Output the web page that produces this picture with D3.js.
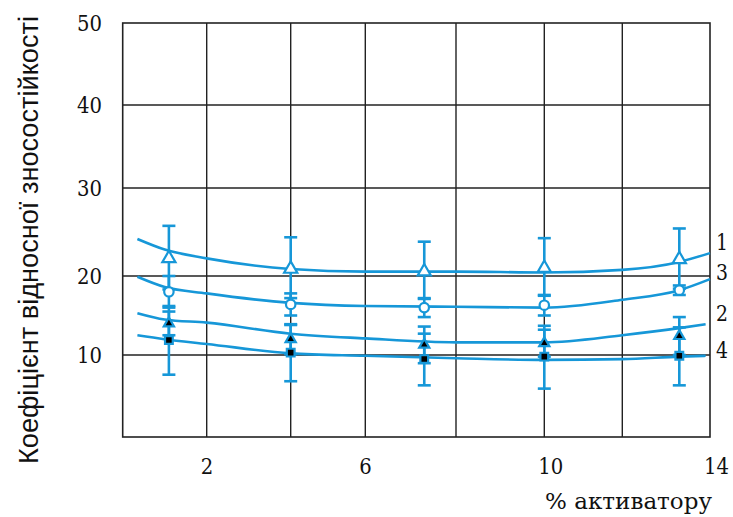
<!DOCTYPE html>
<html>
<head>
<meta charset="utf-8">
<script src="https://cdn.jsdelivr.net/npm/d3@7"></script>
<style>
  body { margin: 0; background: #fff; }
  svg { display: block; }
  .serif { font-family: "DejaVu Serif", serif; }
  .sans { font-family: "Liberation Sans", Arial, sans-serif; }
</style>
</head>
<body>
<div id="chart"></div>
<script>
// values
const xPoints = [1.1, 4, 7.3, 10, 13.3];
const xTicks = [2, 6, 10, 14];
const xGrid = [2, 4, 6, 8, 10, 12];
const yTicks = [10, 20, 30, 40, 50];
const yGrid = [10, 20, 30, 40];

// measured means and errors, series 1..4
const s1 = [22.0, 20.8, 20.5, 20.9, 21.9];
const s1Err = [3.7, 3.6, 3.4, 3.4, 3.5];
const s2 = [14.0, 12.0, 11.3, 11.5, 12.4];
const s2Err = [1.5, 1.9, 2.3, 1.7, 2.4];
const s3 = [18.0, 16.4, 16.0, 16.3, 18.2];
const s3Err = [2.0, 1.4, 1.2, 1.3, 0.6];
const s4 = [11.9, 10.3, 9.5, 9.8, 9.9];
const s4Err = [4.3, 3.5, 3.2, 3.9, 3.6];

// fitted curves
const curveX = [0.35, 1, 2, 4, 6, 8, 10, 12, 13.3, 14];
const curveX24 = [0.35, 1, 2, 4, 6, 8, 10, 12, 13.3, 13.9];
const c1 = [24.2, 23.0, 22.0, 20.8, 20.5, 20.5, 20.4, 20.7, 21.6, 22.6];
const c2 = [15.3, 14.5, 14.1, 12.7, 12.1, 11.6, 11.6, 12.5, 13.4, 13.9];
const c3 = [19.9, 18.6, 17.8, 16.6, 16.2, 16.1, 16.0, 17.0, 18.2, 19.6];
const c4 = [12.5, 12.0, 11.4, 10.2, 9.9, 9.6, 9.4, 9.5, 9.8, 9.9];

const curveLabels = ["1", "3", "2", "4"];
const labelValues = [23.9, 20.5, 15.3, 10.7];

const blue = "#1697d8";

const svg = d3.select("#chart").append("svg")
    .attr("width", 733)
    .attr("height", 517);

// the original grid is hand spaced, so map each grid value to its line
const x = d3.scaleLinear()
    .domain([0, 2, 4, 6, 8, 10, 12, 14])
    .range([122.7, 206.7, 290.7, 365.3, 456, 544.3, 622.3, 710]);
const y = d3.scaleLinear()
    .domain([0, 10, 20, 30, 40, 50])
    .range([437, 355, 276, 188, 105, 23]);

// grid
svg.append("g").selectAll("line").data(xGrid).join("line")
    .attr("x1", d => x(d)).attr("x2", d => x(d))
    .attr("y1", y(0)).attr("y2", y(50))
    .attr("stroke", "#222").attr("stroke-width", 1.4);
svg.append("g").selectAll("line").data(yGrid).join("line")
    .attr("x1", x(0)).attr("x2", x(14))
    .attr("y1", d => y(d)).attr("y2", d => y(d))
    .attr("stroke", "#222").attr("stroke-width", 1.4);
svg.append("rect")
    .attr("x", x(0)).attr("y", y(50))
    .attr("width", x(14) - x(0)).attr("height", y(0) - y(50))
    .attr("fill", "none").attr("stroke", "#222").attr("stroke-width", 1.6);

// tick labels (serif, narrowed to match the original's condensed digits)
svg.append("g").selectAll("text").data(yTicks).join("text")
    .attr("class", "serif")
    .attr("x", 102).attr("y", d => y(d))
    .attr("dy", "0.35em")
    .attr("text-anchor", "end")
    .attr("font-size", 22)
    .attr("textLength", 25)
    .attr("lengthAdjust", "spacingAndGlyphs")
    .attr("fill", "#111")
    .text(d => d);
svg.append("g").selectAll("text").data(xTicks).join("text")
    .attr("class", "serif")
    .attr("x", d => x(d) - 6).attr("y", 466)
    .attr("dy", "0.35em")
    .attr("text-anchor", "start")
    .attr("font-size", 22)
    .attr("textLength", d => String(d).length * 12.5)
    .attr("lengthAdjust", "spacingAndGlyphs")
    .attr("fill", "#111")
    .text(d => d);

// axis titles
svg.append("text")
    .attr("class", "serif")
    .attr("x", 545).attr("y", 509)
    .attr("font-size", 23)
    .attr("textLength", 167)
    .attr("lengthAdjust", "spacingAndGlyphs")
    .attr("fill", "#111")
    .text("% активатору");
svg.append("text")
    .attr("class", "sans")
    .attr("transform", "translate(38,240) rotate(-90)")
    .attr("text-anchor", "middle")
    .attr("font-size", 28)
    .attr("textLength", 448)
    .attr("lengthAdjust", "spacingAndGlyphs")
    .attr("fill", "#111")
    .text("Коефіцієнт відносної зносостійкості");

// curves
const line = d3.line().x(d => x(d[0])).y(d => y(d[1])).curve(d3.curveMonotoneX);
[[curveX, c1], [curveX24, c2], [curveX, c3], [curveX24, c4]].forEach(([xs, ys]) => {
  svg.append("path")
      .datum(xs.map((v, i) => [v, ys[i]]))
      .attr("d", line)
      .attr("fill", "none")
      .attr("stroke", blue)
      .attr("stroke-width", 2.6);
});

// series: order of drawing keeps filled markers on top
const series = [
  { vals: s1, err: s1Err, shape: d3.symbolTriangle, size: 75, fill: "#fff" },
  { vals: s3, err: s3Err, shape: d3.symbolCircle, size: 70, fill: "#fff" },
  { vals: s2, err: s2Err, shape: d3.symbolTriangle, size: 45, fill: "#000" },
  { vals: s4, err: s4Err, shape: d3.symbolSquare, size: 60, fill: "#000" }
];

series.forEach(s => {
  const pts = xPoints.map((v, i) => ({ x: v, y: s.vals[i], e: s.err[i] }));
  const g = svg.append("g");
  g.selectAll(".bar").data(pts).join("line")
      .attr("x1", d => x(d.x)).attr("x2", d => x(d.x))
      .attr("y1", d => y(d.y + d.e)).attr("y2", d => y(d.y - d.e))
      .attr("stroke", blue).attr("stroke-width", 2.6);
  g.selectAll(".capT").data(pts).join("line")
      .attr("x1", d => x(d.x) - 6.5).attr("x2", d => x(d.x) + 6.5)
      .attr("y1", d => y(d.y + d.e)).attr("y2", d => y(d.y + d.e))
      .attr("stroke", blue).attr("stroke-width", 2.6);
  g.selectAll(".capB").data(pts).join("line")
      .attr("x1", d => x(d.x) - 6.5).attr("x2", d => x(d.x) + 6.5)
      .attr("y1", d => y(d.y - d.e)).attr("y2", d => y(d.y - d.e))
      .attr("stroke", blue).attr("stroke-width", 2.6);
});

series.forEach(s => {
  const pts = xPoints.map((v, i) => ({ x: v, y: s.vals[i] }));
  svg.append("g").selectAll("path").data(pts).join("path")
      .attr("d", d3.symbol().type(s.shape).size(s.size))
      .attr("transform", d => `translate(${x(d.x)},${y(d.y)})`)
      .attr("fill", s.fill)
      .attr("stroke", blue)
      .attr("stroke-width", 2.2);
});

// curve numbers at the right edge
svg.append("g").selectAll("text").data(curveLabels).join("text")
    .attr("class", "serif")
    .attr("x", 722).attr("y", (d, i) => y(labelValues[i]))
    .attr("dy", "0.35em")
    .attr("text-anchor", "middle")
    .attr("font-size", 23)
    .attr("textLength", 12)
    .attr("lengthAdjust", "spacingAndGlyphs")
    .attr("fill", "#111")
    .text(d => d);
</script>
</body>
</html>
